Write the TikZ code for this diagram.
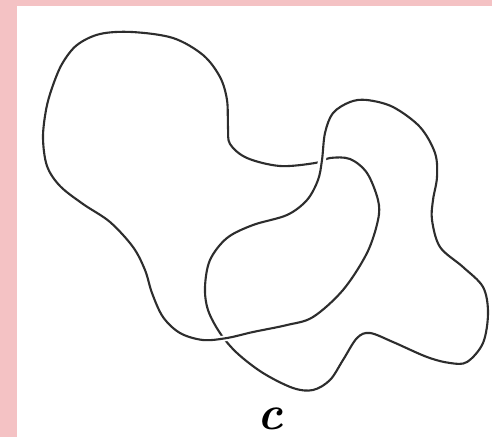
\documentclass[tikz,border=0pt]{standalone}
\usepackage{tikz}
\definecolor{pinkbg}{RGB}{244,194,196}
\definecolor{ink}{RGB}{45,45,45}
\tikzset{
  curve/.style={draw=ink, line width=2.1pt, line join=round},
  halo/.style={draw=white, line width=9pt},
}
\def\curveA{plot[smooth cycle, tension=0.55] coordinates {
 (132,32) (173,38) (203,55) (220,77) (227,100) (228,127) (230,144)
 (247,158) (280,166) (315,163) (330,158) (350,159) (367,173) (378,200)
 (378,220) (367,253) (343,290) (313,317) (287,325) (253,332) (227,338)
 (203,340) (180,333) (163,317) (152,293) (145,270) (133,247) (110,222)
 (83,204) (60,186) (47,166) (43,138) (46,110) (52,88) (62,64) (77,45) (100,34)}}
\def\curveB{plot[smooth cycle, tension=0.55] coordinates {
 (322,160) (325,133) (333,113) (350,102) (367,100) (393,107) (420,127)
 (435,153) (437,177) (433,200) (432,220) (440,247) (463,267) (483,287)
 (488,313) (483,343) (467,362) (450,363) (427,357) (393,342) (370,333)
 (357,338) (343,360) (330,380) (313,390) (293,388) (263,373) (237,353)
 (220,333) (208,310) (205,287) (210,260) (227,238) (253,225) (287,215)
 (307,200) (318,180)}}
\begin{document}
\begin{tikzpicture}[x=1pt,y=-1pt]
\useasboundingbox (0,0) rectangle (492,437);
\fill[pinkbg] (0,0) rectangle (492,437);
\fill[white] (17,6) rectangle (492,437);
% curve A (whole)
\draw[curve] \curveA;
% curve B passes over A at the top crossing
\begin{scope}
  \clip (300,140) rectangle (345,185);
  \draw[halo, line width=8pt] \curveB;
\end{scope}
\draw[curve] \curveB;
% curve A passes over B at the bottom crossing
\begin{scope}
  \clip (200,325) rectangle (250,352);
  \draw[halo, line width=6pt] \curveA;
  \draw[curve] \curveA;
\end{scope}
\node[inner sep=0pt] (lab) at (270,419) {\fontsize{48}{48}\selectfont\bfseries\itshape c};
\end{tikzpicture}
\end{document}
